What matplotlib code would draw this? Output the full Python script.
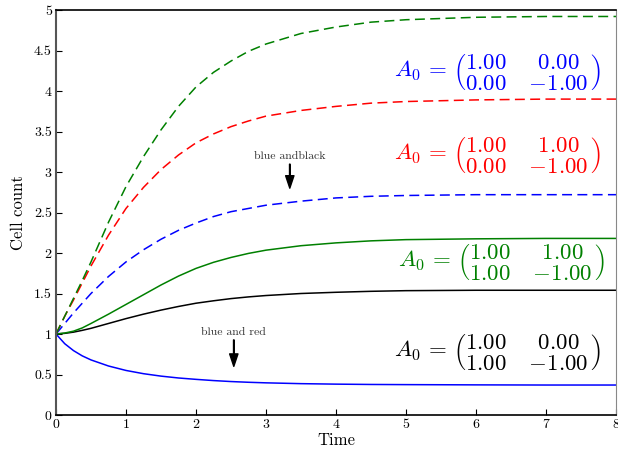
import matplotlib
matplotlib.use("Agg")
import matplotlib.pyplot as plt

plt.rcParams['font.family'] = 'serif'
plt.rcParams['font.serif'] = ['cmr10', 'DejaVu Serif']
plt.rcParams['mathtext.fontset'] = 'cm'
plt.rcParams['axes.unicode_minus'] = False
plt.rcParams['axes.formatter.use_mathtext'] = True

t = [0, 0.125, 0.25, 0.375, 0.5, 0.75, 1.0, 1.25, 1.5, 1.75, 2.0, 2.25, 2.5, 2.75, 3.0,
     3.5, 4.0, 4.5, 5.0, 6.0, 7.0, 8.0]

green_dashed = [1.0, 1.22, 1.44, 1.66, 1.89, 2.38, 2.82, 3.19, 3.52, 3.81, 4.05, 4.23, 4.37,
                4.49, 4.58, 4.71, 4.79, 4.85, 4.88, 4.91, 4.92, 4.92]
red_dashed = [1.0, 1.22, 1.42, 1.63, 1.84, 2.22, 2.55, 2.81, 3.03, 3.21, 3.36, 3.47, 3.56,
              3.63, 3.69, 3.76, 3.81, 3.85, 3.87, 3.89, 3.9, 3.9]
blue_dashed = [1.0, 1.13, 1.26, 1.38, 1.5, 1.71, 1.89, 2.04, 2.17, 2.28, 2.37, 2.45, 2.51,
               2.55, 2.59, 2.64, 2.68, 2.7, 2.71, 2.72, 2.72, 2.72]
green_solid = [1.0, 1.012, 1.035, 1.075, 1.13, 1.245, 1.365, 1.485, 1.605, 1.715, 1.81, 1.885,
               1.945, 1.995, 2.035, 2.09, 2.125, 2.15, 2.165, 2.175, 2.18, 2.18]
black_solid = [1.0, 1.008, 1.023, 1.045, 1.07, 1.13, 1.19, 1.245, 1.295, 1.34, 1.38, 1.41,
               1.437, 1.458, 1.475, 1.5, 1.515, 1.527, 1.535, 1.54, 1.54, 1.54]
blue_solid = [1.0, 0.88, 0.795, 0.73, 0.68, 0.605, 0.55, 0.51, 0.48, 0.457, 0.44, 0.425,
              0.413, 0.404, 0.397, 0.387, 0.381, 0.377, 0.375, 0.372, 0.37, 0.37]

xticks = [0, 1, 2, 3, 4, 5, 6, 7, 8]
yticks = [0, 0.5, 1, 1.5, 2, 2.5, 3, 3.5, 4, 4.5, 5]
ytick_labels = ['0', '0.5', '1', '1.5', '2', '2.5', '3', '3.5', '4', '4.5', '5']

matrices = [
    (r'$A_0 \,=\, \left(\genfrac{}{}{0}{0}{1.00}{0.00}\quad\genfrac{}{}{0}{0}{0.00}{-1.00}\right)$', 'blue', 4.23),
    (r'$A_0 \,=\, \left(\genfrac{}{}{0}{0}{1.00}{0.00}\quad\genfrac{}{}{0}{0}{1.00}{-1.00}\right)$', 'red', 3.21),
    (r'$A_0 \,=\, \left(\genfrac{}{}{0}{0}{1.00}{1.00}\quad\genfrac{}{}{0}{0}{1.00}{-1.00}\right)$', 'green', 1.89),
    (r'$A_0 \,=\, \left(\genfrac{}{}{0}{0}{1.00}{1.00}\quad\genfrac{}{}{0}{0}{0.00}{-1.00}\right)$', 'black', 0.78),
]
matrix_x = [7.78, 7.78, 7.84, 7.78]

fig = plt.figure(figsize=(6.18, 4.55), dpi=100)
ax = fig.add_axes([56 / 618, 40 / 455, 560 / 618, 405 / 455])

ax.plot(t, blue_solid, color='#0000ff', lw=1.1)
ax.plot(t, black_solid, color='black', lw=1.1)
ax.plot(t, green_solid, color='#008000', lw=1.1)
ax.plot(t, blue_dashed, color='#0000ff', lw=1.1, ls=(0, (6.5, 3.5)))
ax.plot(t, red_dashed, color='#ff0000', lw=1.1, ls=(0, (6.5, 3.5)))
ax.plot(t, green_dashed, color='#008000', lw=1.1, ls=(0, (6.5, 3.5)))

for (txt, col, yv), xv in zip(matrices, matrix_x):
    ax.text(xv, yv, txt, color=col, fontsize=16.5, ha='right', va='center')

ax.annotate('blue andblack', xy=(3.34, 2.8), xytext=(3.34, 3.19),
            ha='center', va='center', fontsize=8.5, color='#333333',
            arrowprops=dict(facecolor='black', edgecolor='black', width=0.4,
                            headwidth=6, headlength=9, shrink=0.0))
ax.annotate('blue and red', xy=(2.54, 0.6), xytext=(2.54, 1.02),
            ha='center', va='center', fontsize=8.5, color='#333333',
            arrowprops=dict(facecolor='black', edgecolor='black', width=0.4,
                            headwidth=6, headlength=9, shrink=0.0))

ax.set_xlim(0, 8)
ax.set_ylim(0, 5)
ax.set_xticks(xticks)
ax.set_xticklabels([str(x) for x in xticks])
ax.set_yticks(yticks)
ax.set_yticklabels(ytick_labels)
ax.tick_params(direction='in', length=4, labelsize=10, width=0.8, pad=3)
ax.set_xlabel('Time', fontsize=12, labelpad=1)
ax.set_ylabel('Cell count', fontsize=12, labelpad=6)
for s in ['top', 'bottom']:
    ax.spines[s].set_linewidth(1.2)
ax.spines['left'].set_linewidth(1.5)
ax.spines['left'].set_color('#555555')
ax.spines['right'].set_color('#888888')
ax.spines['right'].set_linewidth(0.8)

fig.savefig('out.png', dpi=100)
